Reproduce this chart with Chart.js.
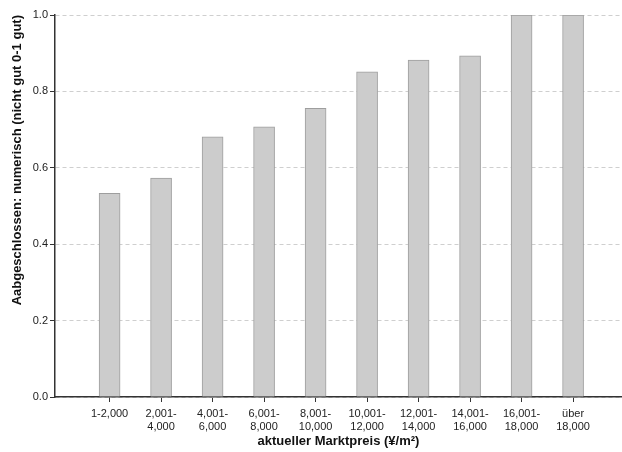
<!DOCTYPE html>
<html>
<head>
<meta charset="utf-8">
<script src="https://cdn.jsdelivr.net/npm/chart.js@4/dist/chart.umd.min.js"></script>
<style>
  html, body { margin: 0; padding: 0; background: #fff; }
  #wrap { width: 622px; height: 452px; position: relative; }
</style>
</head>
<body>
<div id="wrap"><canvas id="c" width="622" height="452"></canvas></div>
<script>
const categories = [
  ['1-2,000'], ['2,001-', '4,000'], ['4,001-', '6,000'], ['6,001-', '8,000'],
  ['8,001-', '10,000'], ['10,001-', '12,000'], ['12,001-', '14,000'],
  ['14,001-', '16,000'], ['16,001-', '18,000'], ['über', '18,000']
];
const values = [0.533, 0.573, 0.681, 0.707, 0.756, 0.851, 0.882, 0.893, 1.0, 1.0];
const yTicks = [0, 0.2, 0.4, 0.6, 0.8, 1.0];
const xTitle = 'aktueller Marktpreis (¥/m²)';
const yTitle = 'Aabgeschlossen: numerisch (nicht gut 0-1 gut)';

const FONT = '"Liberation Sans", Arial, sans-serif';

new Chart(document.getElementById('c'), {
  type: 'bar',
  data: {
    datasets: [{
      data: values.map((v, i) => ({ x: i, y: v })),
      backgroundColor: '#cccccc',
      borderColor: '#9e9e9e',
      borderWidth: 1,
      barThickness: 21
    }]
  },
  options: {
    responsive: false,
    animation: false,
    devicePixelRatio: 1,
    layout: { padding: { top: 15, right: 0, left: 0, bottom: 0 } },
    plugins: { legend: { display: false }, tooltip: { enabled: false } },
    scales: {
      x: {
        type: 'linear',
        offset: false,
        min: -1.06,
        max: 9.95,
        afterBuildTicks: s => { s.ticks = categories.map((c, i) => ({ value: i })); },
        afterFit: s => { s.height = 55; },
        ticks: {
          autoSkip: false,
          maxRotation: 0,
          padding: 5,
          color: '#222',
          font: { family: FONT, size: 11 },
          callback: v => categories[v]
        },
        grid: { offset: false, drawOnChartArea: false, drawTicks: true, tickLength: 5, tickColor: '#333' },
        border: { display: true, color: '#333', width: 1.5 },
        title: {
          display: true, text: xTitle, color: '#111',
          font: { family: FONT, size: 13, weight: 'bold' },
          padding: { top: 0, bottom: 3 }
        }
      },
      y: {
        min: 0, max: 1,
        afterBuildTicks: s => { s.ticks = yTicks.map(v => ({ value: v })); },
        afterFit: s => { s.width = 55; },
        ticks: {
          padding: 2,
          color: '#222',
          font: { family: FONT, size: 11 },
          callback: v => Number(v).toFixed(1)
        },
        grid: {
          color: '#cfcfcf', lineWidth: 1,
          tickLength: 5, tickColor: '#333', tickBorderDash: []
        },
        border: { display: true, color: '#333', width: 1.5, dash: [4, 3] },
        title: {
          display: true, text: yTitle, color: '#111', align: 'end',
          font: { family: FONT, size: 13, weight: 'bold' },
          padding: { top: 10, bottom: 0 }
        }
      }
    }
  }
});
</script>
</body>
</html>
